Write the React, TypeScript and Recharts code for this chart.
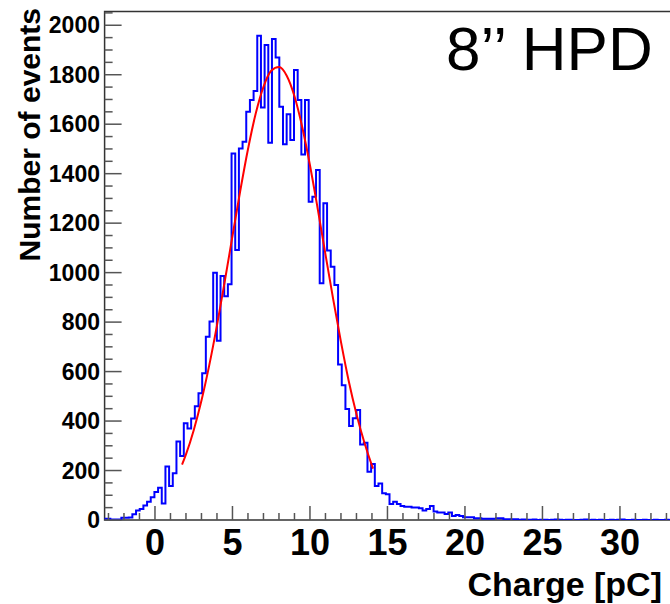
import React from "react";
import { LineChart, Line, XAxis, YAxis, ReferenceArea } from "recharts";

// histogram bins: left edge = BIN_START + i * BIN_WIDTH
const BIN_START = -3.354;
const BIN_WIDTH = 0.237;
const counts = [
  5, 5, 2, 2, 2, 9, 9, 10, 23, 38, 44, 59, 74, 92, 113, 130, 67, 216, 137, 189,
  317, 259, 391, 370, 410, 460, 512, 593, 741, 802, 1000, 725, 986, 905, 953, 1482, 1091, 1502, 1529, 1650,
  1698, 1734, 1958, 1668, 1920, 1525, 1944, 1870, 1671, 1519, 1640, 1536, 1819, 1698, 1478, 1698, 1287, 1307, 1415, 957,
  1280, 1089, 1024, 950, 629, 545, 449, 380, 411, 445, 305, 312, 195, 226, 137, 148, 108, 104, 65, 74,
  65, 57, 54, 54, 51, 51, 47, 38, 44, 57, 34, 30, 30, 24, 30, 16, 20, 16, 11, 11,
  11, 7, 7, 5, 5, 5, 5, 7, 7, 3, 3, 3, 3, 1, 2, 1, 1, 2, 0, 1,
  1, 0, 1, 2, 1, 0, 1, 1, 0, 0, 1, 2, 0, 1, 0, 1, 0, 0, 1, 0,
  1, 2, 0, 0, 1, 0, 0, 1, 0, 0, 1, 0, 0, 1, 0, 0,
];

// gaussian fit
const fitX = [1.75, 2, 2.5, 3, 3.5, 4, 4.5, 5, 5.5, 6, 6.5, 7, 7.5, 8, 8.5, 9, 9.5, 10, 10.5, 11, 11.5, 12, 12.5, 13, 13.5, 14, 14.07];
const fitY = [224, 265, 363, 483, 625, 787, 964, 1148, 1330, 1499, 1643, 1751, 1816, 1831, 1796, 1713, 1589, 1434, 1258, 1074, 892, 720, 562, 428, 315, 220, 208];

const xMajor = [0, 5, 10, 15, 20, 25, 30];
const xMinor = [-3, -2, -1, 0, 1, 2, 3, 4, 5, 6, 7, 8, 9, 10, 11, 12, 13, 14, 15, 16, 17, 18, 19, 20, 21, 22, 23, 24, 25, 26, 27, 28, 29, 30, 31, 32, 33];
const yMajor = [0, 200, 400, 600, 800, 1000, 1200, 1400, 1600, 1800, 2000];
const yMinor = [0, 50, 100, 150, 200, 250, 300, 350, 400, 450, 500, 550, 600, 650, 700, 750, 800, 850, 900, 950, 1000, 1050, 1100, 1150, 1200, 1250, 1300, 1350, 1400, 1450, 1500, 1550, 1600, 1650, 1700, 1750, 1800, 1850, 1900, 1950, 2000, 2050];

const histData = counts.map((c, i) => ({ x: BIN_START + i * BIN_WIDTH, y: c }));
histData.push({ x: BIN_START + counts.length * BIN_WIDTH, y: counts[counts.length - 1] });
const fitData = fitX.map((x, i) => ({ x, y: fitY[i] }));

const FONT = "'Liberation Sans', Arial, Helvetica, sans-serif";
const PLOT_LEFT = 104.6;
const PLOT_BOTTOM = 520;

function XTick(props: any) {
  const { x, payload } = props;
  const v = payload.value;
  const major = xMajor.includes(v);
  return (
    <g>
      <line x1={x} x2={x} y1={PLOT_BOTTOM} y2={PLOT_BOTTOM - (major ? 14 : 7)} stroke="#555" strokeWidth={1.5} />
      {major && (
        <text x={x} y={555} textAnchor="middle" fontFamily={FONT} fontWeight="bold" fontSize={36} fill="#000">
          {v}
        </text>
      )}
    </g>
  );
}

function YTick(props: any) {
  const { y, payload } = props;
  const v = payload.value;
  const major = yMajor.includes(v);
  return (
    <g>
      <line x1={PLOT_LEFT} x2={PLOT_LEFT + (major ? 17 : 8)} y1={y} y2={y} stroke="#555" strokeWidth={1.5} />
      {major && (
        <text x={100} y={y + 8} textAnchor="end" fontFamily={FONT} fontWeight="bold" fontSize={23} fill="#000">
          {v}
        </text>
      )}
    </g>
  );
}

export default function App() {
  return (
    <div style={{ position: "absolute", left: 0, top: 0, width: 670, height: 604, overflow: "hidden", background: "#fff" }}>
      <LineChart width={680} height={604} margin={{ top: 11.4, right: 5.8, left: 0, bottom: 0 }}>
        <XAxis
          type="number"
          dataKey="x"
          domain={[-3.25, 33.5]}
          allowDataOverflow
          ticks={xMinor}
          interval={0}
          tick={<XTick />}
          tickLine={false}
          axisLine={false}
          height={84}
        />
        <YAxis
          type="number"
          domain={[0, 2056]}
          allowDataOverflow
          ticks={yMinor}
          interval={0}
          tick={<YTick />}
          tickLine={false}
          axisLine={false}
          width={104.6}
        />
        <ReferenceArea x1={-3.25} x2={33.5} y1={0} y2={2056} fill="none" stroke="#333" strokeWidth={1.5} />
        <Line data={histData} dataKey="y" type="stepAfter" stroke="#0000ff" strokeWidth={2} dot={false} isAnimationActive={false} />
        <Line data={fitData} dataKey="y" type="monotone" stroke="#ff0000" strokeWidth={2} dot={false} isAnimationActive={false} />
      </LineChart>
      <svg width={670} height={604} style={{ position: "absolute", left: 0, top: 0, pointerEvents: "none" }}>
        <text transform="translate(40,8) rotate(-90)" textAnchor="end" fontFamily={FONT} fontWeight="bold" fontSize={30} fill="#000">
          Number of events
        </text>
        <text x={662} y={596} textAnchor="end" fontFamily={FONT} fontWeight="bold" fontSize={34} fill="#000">
          Charge [pC]
        </text>
        <text x={446} y={70} fontFamily={FONT} fontSize={62} fill="#000">
          8’’ HPD
        </text>
      </svg>
    </div>
  );
}
